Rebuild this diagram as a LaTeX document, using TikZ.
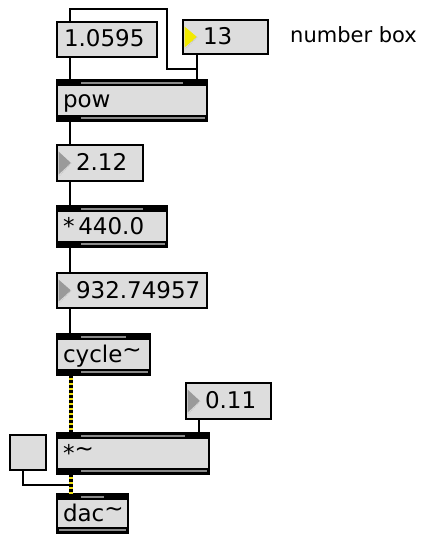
\documentclass[tikz,border=0pt]{standalone}
\usepackage{fontspec}
\setmainfont{DejaVu Sans}
\definecolor{boxgray}{HTML}{DDDDDD}
\definecolor{stripgray}{HTML}{8A8A8A}
\definecolor{trigray}{HTML}{9A9A9A}
\definecolor{trilite}{HTML}{C8C8C8}
\definecolor{sigyellow}{HTML}{F0E010}
\definecolor{triyellow}{HTML}{F2EA00}
\newcommand{\tl}{\raisebox{5pt}{\textasciitilde}}
\begin{document}
\begin{tikzpicture}[x=1pt,y=-1pt,
  base/.style={draw, line width=1.6pt, fill=boxgray, rectangle, anchor=north west,
    inner ysep=0pt, outer sep=0pt, font=\fontsize{23}{23}\selectfont, text height=20pt, text depth=5pt, align=left},
  msgbox/.style={base, inner xsep=7pt, minimum height=35pt},
  numbox/.style={base, inner xsep=3pt, minimum height=35pt,
    path picture={
      \fill[#1] ([xshift=1.5pt,yshift=-6.5pt]path picture bounding box.north west)
        -- ([xshift=14pt]path picture bounding box.west)
        -- ([xshift=1.5pt,yshift=6.5pt]path picture bounding box.south west) -- cycle;
      \draw[trilite, line width=1.2pt, dash pattern=on 1pt off 1pt]
        ([xshift=14pt]path picture bounding box.west)
        -- ([xshift=2.5pt,yshift=5.5pt]path picture bounding box.south west);
    }},
  numbox/.default=trigray,
  objbox/.style={base, inner xsep=6pt, minimum height=41pt,
    path picture={
      \fill[black] (path picture bounding box.north west) rectangle
        ([yshift=-6pt]path picture bounding box.north east);
      \draw[stripgray, line width=2pt]
        ([xshift=24pt,yshift=-3.2pt]path picture bounding box.north west) --
        ([xshift=-24pt,yshift=-3.2pt]path picture bounding box.north east);
      \fill[black] (path picture bounding box.south west) rectangle
        ([yshift=6pt]path picture bounding box.south east);
      \draw[stripgray, line width=2pt]
        ([xshift=#1,yshift=3pt]path picture bounding box.south west) --
        ([xshift=-2pt,yshift=3pt]path picture bounding box.south east);
    }},
  objbox/.default=24pt,
  plainbox/.style={draw, line width=1.6pt, fill=boxgray, rectangle, anchor=north west,
    inner sep=0pt, outer sep=0pt, minimum width=36pt, minimum height=35pt},
  conn/.style={line width=1.8pt, black},
  sig/.style={line width=4.5pt, black, dash pattern=on 2.5pt off 2.5pt,
    preaction={draw, sigyellow, line width=4.5pt, solid}},
  lbl/.style={anchor=base west, inner sep=0pt, font=\fontsize{21}{21}\selectfont}
]
\fill[white] (0,0) rectangle (426,540);
\useasboundingbox (0,0) rectangle (426,540);

% boxes
\node[msgbox, text width=86pt] (m1) at (57,22) {1.0595};
\node[numbox=triyellow, text width=79pt, minimum height=34pt] (n13) at (183,20) {\hspace*{17pt}13};
\node[lbl] (lab) at (290,43) {number box};
\node[objbox, text width=138pt] (pow) at (57,80) {pow};
\node[numbox, text width=80pt, minimum height=36pt] (n212) at (57,145) {\hspace*{16pt}2.12};
\node[objbox, text width=98pt] (mul) at (57,206) {*\,440.0};
\node[numbox, text width=144pt] (n932) at (57,273) {\hspace*{16pt}932.74957};
\node[objbox, text width=81pt] (cyc) at (57,334) {cycle\tl};
\node[numbox, text width=79pt, minimum height=36pt] (n011) at (186,383) {\hspace*{16pt}0.11};
\node[objbox, text width=140pt] (msig) at (57,433) {*\tl};
\node[plainbox] (tog) at (10,435) {};
\node[objbox=2pt, text width=59pt, minimum height=39pt] (dac) at (57,494) {dac\tl};

% junction points
\coordinate (j1) at (197,69);
\coordinate (lt) at (167,9);
\coordinate (j2) at (71,485);

% control connections
\draw[conn] ([xshift=13pt]m1.south west) -- ([xshift=13pt]m1.south west |- pow.north);
\draw[conn] ([xshift=14pt]n13.south west) -- ([xshift=14pt]n13.south west |- pow.north);
\draw[conn] ([xshift=13pt]m1.north west) |- (lt) |- (j1);
\draw[conn] ([xshift=13pt]pow.south west) -- ([xshift=13pt]n212.north west);
\draw[conn] ([xshift=13pt]n212.south west) -- ([xshift=13pt]mul.north west);
\draw[conn] ([xshift=13pt]mul.south west) -- ([xshift=13pt]n932.north west);
\draw[conn] ([xshift=13pt]n932.south west) -- ([xshift=13pt]cyc.north west);
\draw[conn] ([xshift=13pt]n011.south west) -- ([xshift=13pt]n011.south west |- msig.north);
\draw[conn] ([xshift=13pt]tog.south west) |- (j2);

% signal connections
\draw[sig] ([xshift=14pt]cyc.south west) -- ([xshift=14pt]msig.north west);
\draw[sig] ([xshift=14pt]msig.south west) -- ([xshift=14pt]dac.north west);
\end{tikzpicture}
\end{document}
